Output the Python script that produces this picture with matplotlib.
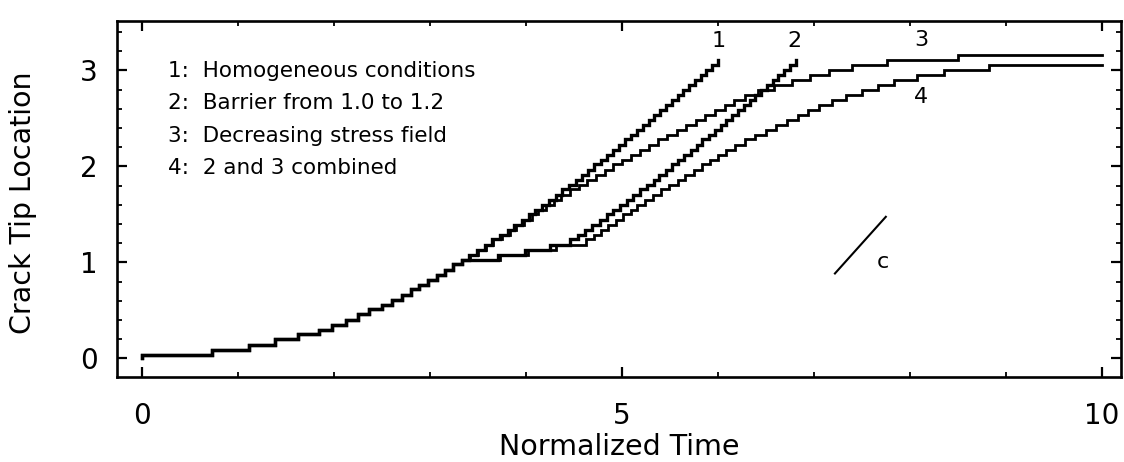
import matplotlib
matplotlib.use("Agg")
import matplotlib.pyplot as plt
from matplotlib.ticker import FixedLocator, MultipleLocator

# ---------------- data ----------------
# common early part of all four runs: step times and crack-tip levels
shared_t = [0.00, 0.00, 0.73, 1.11, 1.39, 1.63, 1.84, 1.98, 2.13, 2.25, 2.37,
            2.50, 2.60, 2.71, 2.80, 2.89, 2.98, 3.07, 3.16, 3.24, 3.33]
shared_y = [0.00, 0.04, 0.09, 0.14, 0.20, 0.25, 0.30, 0.35, 0.40, 0.46, 0.51,
            0.56, 0.61, 0.66, 0.72, 0.77, 0.82, 0.87, 0.92, 0.98, 1.03]

# 1: homogeneous conditions
c1_t = [3.41, 3.49, 3.57, 3.65, 3.73, 3.81, 3.88, 3.96, 4.03, 4.10,
        4.17, 4.24, 4.31, 4.38, 4.45, 4.52, 4.58, 4.65, 4.71, 4.78,
        4.84, 4.91, 4.97, 5.03, 5.10, 5.16, 5.22, 5.28, 5.34, 5.40,
        5.46, 5.52, 5.58, 5.64, 5.70, 5.76, 5.82, 5.88, 5.94, 6.00]
c1_y = [1.08, 1.13, 1.18, 1.24, 1.29, 1.34, 1.39, 1.44, 1.50, 1.55,
        1.60, 1.65, 1.70, 1.76, 1.81, 1.86, 1.91, 1.96, 2.02, 2.07,
        2.12, 2.17, 2.22, 2.28, 2.33, 2.38, 2.43, 2.48, 2.54, 2.59,
        2.64, 2.69, 2.74, 2.80, 2.85, 2.90, 2.95, 3.00, 3.06, 3.11]

# 2: barrier from 1.0 to 1.2
c2_t = [3.71, 3.99, 4.25, 4.46, 4.54, 4.62, 4.69, 4.77, 4.84, 4.91,
        4.98, 5.05, 5.12, 5.19, 5.26, 5.33, 5.39, 5.46, 5.52, 5.59,
        5.65, 5.72, 5.78, 5.84, 5.91, 5.97, 6.03, 6.09, 6.15, 6.21,
        6.27, 6.33, 6.39, 6.45, 6.51, 6.57, 6.63, 6.69, 6.75, 6.81]
c2_y = [1.08, 1.13, 1.18, 1.24, 1.29, 1.34, 1.39, 1.44, 1.50, 1.55,
        1.60, 1.65, 1.70, 1.76, 1.81, 1.86, 1.91, 1.96, 2.02, 2.07,
        2.12, 2.17, 2.22, 2.28, 2.33, 2.38, 2.43, 2.48, 2.54, 2.59,
        2.64, 2.69, 2.74, 2.80, 2.85, 2.90, 2.95, 3.00, 3.06, 3.11]

# 3: decreasing stress field
c3_t = [3.42, 3.50, 3.58, 3.66, 3.75, 3.83, 3.90, 3.98, 4.06, 4.13,
        4.21, 4.29, 4.37, 4.46, 4.55, 4.64, 4.73, 4.82, 4.91, 5.00,
        5.09, 5.19, 5.28, 5.38, 5.47, 5.57, 5.67, 5.77, 5.87, 5.97,
        6.07, 6.17, 6.28, 6.42, 6.59, 6.77, 6.96, 7.16, 7.40, 7.76,
        8.50, 10.00]
c3_y = [1.08, 1.13, 1.18, 1.24, 1.29, 1.34, 1.39, 1.44, 1.50, 1.55,
        1.60, 1.65, 1.70, 1.76, 1.81, 1.86, 1.91, 1.96, 2.02, 2.07,
        2.12, 2.17, 2.22, 2.28, 2.33, 2.38, 2.43, 2.48, 2.54, 2.59,
        2.64, 2.69, 2.74, 2.80, 2.85, 2.90, 2.95, 3.00, 3.06, 3.11,
        3.16, 3.16]

# 4: 2 and 3 combined
c4_t = [3.73, 4.02, 4.31, 4.63, 4.71, 4.78, 4.86, 4.94, 5.01, 5.09,
        5.16, 5.24, 5.32, 5.41, 5.49, 5.58, 5.66, 5.75, 5.83, 5.92,
        6.00, 6.09, 6.18, 6.28, 6.39, 6.50, 6.61, 6.72, 6.83, 6.94,
        7.05, 7.19, 7.34, 7.50, 7.67, 7.84, 8.07, 8.36, 8.83, 10.00]
c4_y = [1.08, 1.13, 1.18, 1.24, 1.29, 1.34, 1.39, 1.44, 1.50, 1.55,
        1.60, 1.65, 1.70, 1.76, 1.81, 1.86, 1.91, 1.96, 2.02, 2.07,
        2.12, 2.17, 2.22, 2.28, 2.33, 2.38, 2.43, 2.48, 2.54, 2.59,
        2.64, 2.69, 2.74, 2.80, 2.85, 2.90, 2.95, 3.00, 3.06, 3.06]

# slope indicator "c"
slope_t = [7.22, 7.75]
slope_y = [0.885, 1.475]

legend_lines = ["1:  Homogeneous conditions",
                "2:  Barrier from 1.0 to 1.2",
                "3:  Decreasing stress field",
                "4:  2 and 3 combined"]
curve_names = ["1", "2", "3", "4"]
x_ticks = [0, 5, 10]
y_ticks = [0, 1, 2, 3]

# ---------------- figure ----------------
plt.rcParams["font.family"] = ["DejaVu Sans"]
fig = plt.figure(figsize=(11.24, 4.62), dpi=100)
ax = fig.add_axes([0.1041, 0.1846, 0.8932, 0.7706])

curves = [(c3_t, c3_y, 2.0), (c4_t, c4_y, 2.0), (c1_t, c1_y, 2.4), (c2_t, c2_y, 2.4)]
for tt, yy, lw in curves:
    ax.plot(shared_t + tt, shared_y + yy, drawstyle="steps-post",
            color="black", lw=lw, solid_joinstyle="miter")

ax.plot(slope_t, slope_y, color="black", lw=1.5)

ax.set_xlim(-0.26, 10.2)
ax.set_ylim(-0.19, 3.517)

ax.xaxis.set_major_locator(FixedLocator(x_ticks))
ax.xaxis.set_minor_locator(MultipleLocator(1))
ax.yaxis.set_major_locator(FixedLocator(y_ticks))
ax.yaxis.set_minor_locator(MultipleLocator(0.2))
ax.tick_params(which="both", direction="in", top=True, right=True, color="black")
ax.tick_params(which="major", length=7, width=1.6, labelsize=20)
ax.tick_params(which="minor", length=3.5, width=1.3)
ax.tick_params(axis="x", pad=18)
ax.tick_params(axis="y", pad=14)
for sp in ax.spines.values():
    sp.set_linewidth(1.9)

ax.set_xlabel("Normalized Time", fontsize=20.5, va="center")
ax.xaxis.set_label_coords(0.5, -0.197)
ax.set_ylabel("Crack Tip Location", fontsize=20.5, va="center")
ax.yaxis.set_label_coords(-0.094, 0.49)

leg_y = [2.93, 2.60, 2.25, 1.92]
for txt, yy in zip(legend_lines, leg_y):
    ax.text(0.27, yy, txt, fontsize=15.5, va="baseline", ha="left")

label_pos = [(6.01, 3.31), (6.80, 3.31), (8.12, 3.32), (8.12, 2.72)]
for name, (lx, ly) in zip(curve_names, label_pos):
    ax.text(lx, ly, name, fontsize=16, ha="center", va="center")
ax.text(7.72, 1.00, "c", fontsize=16, ha="center", va="center")

fig.savefig("out.png", dpi=100)
